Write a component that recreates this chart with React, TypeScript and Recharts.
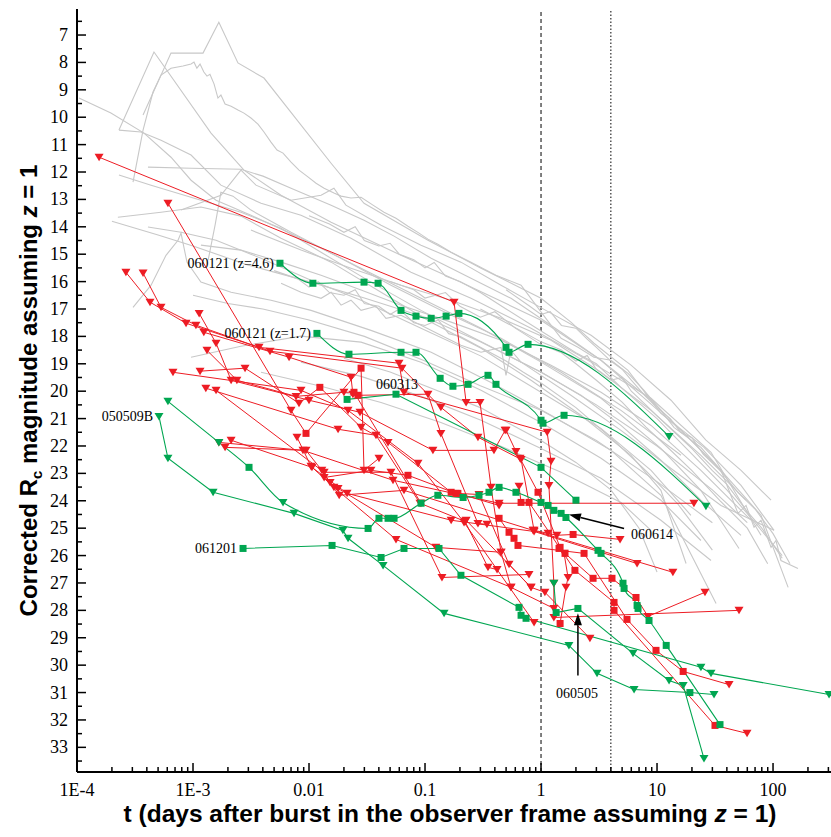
import React from 'react';
import { LineChart, Line, XAxis, YAxis, ReferenceLine, ReferenceDot } from 'recharts';

const RED = '#ed1c24';
const GREEN = '#00a651';
const GRAY = '#c8c8c8';
const SERIF = '"Liberation Serif", "Times New Roman", serif';
const SANS = '"Liberation Sans", Arial, sans-serif';

// axis ticks
const xMajor = [1e-4, 1e-3, 0.01, 0.1, 1, 10, 100];
const xMajorLabels = ['1E-4', '1E-3', '0.01', '0.1', '1', '10', '100'];

// grey afterglows (t in days, R magnitude)
const gray01 = [[3.71e-4, 9.92], [6.46e-4, 7.66], [1.22e-3, 7.66], [1.67e-3, 6.53], [2.44e-3, 8.02], [4.09e-3, 8.57], [0.0155, 11.68], [0.0298, 13.14], [0.106, 14.49], [0.304, 15.51], [1.0, 16.61], [1.81, 17.48], [2.86, 18.25], [5.62, 19.24], [10.8, 20.81], [25.4, 22.05], [53.0, 23.44], [102, 25.08]];
const gray02 = [[2.3e-4, 10.47], [4.61e-4, 7.62], [1.43e-3, 10.58], [2.75e-3, 11.93], [5.74e-3, 12.85], [0.0155, 13.83], [0.0621, 15.04], [0.204, 16.02], [1.0, 17.41], [3.29, 18.87], [8.88, 20.33], [19.6, 21.79], [35.6, 22.89]];
const gray03 = [[3.04e-4, 12.37], [3.71e-4, 10.47], [4.52e-4, 9.08], [5.3e-4, 8.46], [6.46e-4, 8.21], [8.2e-4, 8.13], [9.62e-4, 8.06], [1.02e-3, 7.99], [1.08e-3, 8.21], [1.15e-3, 8.06], [1.24e-3, 8.35], [1.32e-3, 8.5], [1.4e-3, 8.43], [1.52e-3, 8.79], [1.64e-3, 9.3], [1.74e-3, 9.19], [1.89e-3, 9.52], [2.13e-3, 9.6], [2.44e-3, 9.74], [2.75e-3, 9.85], [3.16e-3, 10.03], [3.63e-3, 10.25], [4.09e-3, 10.54], [4.7e-3, 10.91], [5.3e-3, 11.2], [5.97e-3, 11.31], [7.0e-3, 11.64], [8.2e-3, 11.93], [9.6e-3, 12.15], [0.0115, 12.41], [0.0135, 12.59], [0.0164, 12.77], [0.0189, 12.88], [0.023, 12.95], [0.0281, 12.92], [0.0356, 13.21], [0.0443, 13.47], [0.0562, 13.69], [0.0713, 13.98], [0.0888, 14.23], [0.106, 14.45], [0.129, 14.64], [0.168, 14.93], [0.249, 15.29], [0.409, 15.77], [0.673, 16.13], [1.1, 17.34], [1.49, 18.07], [2.08, 18.4], [2.86, 18.76], [4.01, 18.87], [5.62, 19.35], [7.73, 19.97], [10.8, 20.7], [14.0, 21.32], [23.9, 22.05], [35.6, 22.89], [49.9, 24.46], [58.5, 24.17], [68.6, 24.97], [78.8, 24.71], [96.2, 25.7], [106, 25.45], [117, 26.18], [164, 26.47]];
const gray04 = [[4.09e-4, 11.82], [9.62e-4, 11.86], [2.59e-3, 11.9], [4.01e-3, 12.15], [7.0e-3, 12.59], [0.0155, 13.21], [0.0298, 13.76], [0.0541, 14.34], [0.113, 15.15], [0.249, 15.88], [0.551, 16.61], [1.49, 17.85], [3.29, 18.87], [7.28, 20.15], [16.1, 21.43], [35.6, 22.89], [78.8, 24.53], [135, 27.16]];
const gray05 = [[1.04e-4, 9.3], [1.96e-4, 9.85], [3.78e-4, 10.58], [6.46e-4, 11.46], [9.62e-4, 12.3], [1.58e-3, 13.03], [3.16e-3, 13.58], [8.53e-3, 14.42], [0.0281, 15.51], [0.0924, 16.61], [0.304, 17.7], [1.0, 18.94], [3.29, 20.26], [10.8, 22.09], [23.9, 23.62], [50.9, 25.74]];
const gray06 = [[2.3e-4, 12.11], [4.35e-4, 12.48], [1.17e-3, 13.03], [2.59e-3, 13.47], [5.74e-3, 14.05], [0.0127, 14.93], [0.0342, 16.02], [0.0924, 17.05], [0.249, 18.0], [0.673, 18.94], [1.81, 20.15], [4.89, 21.43], [13.2, 22.82], [35.6, 24.17], [102, 25.08]];
const gray07 = [[2.25e-4, 13.65], [5.3e-4, 13.47], [1.17e-3, 13.28], [2.59e-3, 13.61], [5.74e-3, 14.42], [0.0155, 15.29], [0.0418, 16.39], [0.113, 17.48], [0.304, 18.43], [0.82, 19.6], [2.21, 20.88], [5.97, 22.34], [10.8, 23.62], [17.8, 26.29]];
const gray08 = [[2.3e-4, 10.47], [3.56e-4, 10.54], [5.3e-4, 10.84], [9.62e-4, 11.38], [1.74e-3, 12.48], [3.86e-3, 13.14], [8.53e-3, 13.58], [0.023, 14.42], [0.0757, 15.66], [0.249, 16.61], [0.82, 17.7], [2.7, 18.94], [8.88, 20.26], [29.2, 22.23], [78.8, 25.26]];
const gray09 = [[3.04e-4, 16.94], [4.35e-4, 16.13], [5.85e-4, 15.04], [7.43e-4, 14.49], [7.88e-4, 14.23], [8.87e-4, 15.29], [1.17e-3, 16.02], [2.13e-3, 16.39], [4.7e-3, 16.68], [0.0104, 17.05], [0.0342, 17.78], [0.113, 18.58], [0.371, 19.68], [1.22, 20.88], [4.01, 22.16], [10.8, 23.8], [32.3, 27.75]];
const gray10 = [[9.62e-4, 18.76], [2.59e-3, 18.36], [8.53e-3, 17.99], [0.0281, 18.21], [0.0924, 18.94], [0.304, 19.97], [1.0, 21.14], [3.29, 22.45], [10.8, 23.98], [23.9, 25.45]];
const gray11 = [[3.86e-3, 19.31], [0.0127, 19.82], [0.0418, 20.41], [0.137, 21.14], [0.452, 22.01], [1.49, 22.96], [4.89, 24.06], [8.88, 25.08]];
const gray12 = [[5.74e-3, 16.06], [8.53e-3, 16.39], [0.0127, 16.61], [0.0155, 16.39], [0.0189, 16.86], [0.023, 16.68], [0.0281, 17.05], [0.0378, 16.9], [0.0461, 17.34], [0.0621, 17.23], [0.0924, 17.59], [0.137, 17.96], [0.204, 18.32], [0.304, 18.58], [0.452, 18.4], [0.499, 19.42], [0.551, 18.51], [0.673, 18.94], [1.0, 19.31], [2.21, 20.15], [4.89, 21.25], [10.8, 22.52], [23.9, 23.98], [53.0, 25.26]];
const gray13 = [[1.17e-3, 14.67], [2.59e-3, 14.85], [5.74e-3, 15.29], [0.0127, 15.77], [0.0281, 16.31], [0.0621, 16.86], [0.168, 17.48], [0.452, 18.14], [1.22, 19.05], [3.29, 20.04], [8.88, 21.25], [23.9, 22.89], [64.6, 24.71]];
const gray14 = [[1.35e-3, 15.22], [1.55e-3, 13.94], [1.74e-3, 12.74], [2.21e-3, 12.88], [3.16e-3, 13.39], [7.0e-3, 14.2], [0.0189, 15.15], [0.0509, 16.13], [0.137, 17.05], [0.452, 18.07], [1.49, 19.31], [4.89, 20.7], [16.1, 22.34]];
const gray15 = [[7.88e-4, 13.39], [1.74e-3, 12.85], [2.59e-3, 11.93], [3.49e-3, 12.48], [7.0e-3, 13.03], [0.0127, 12.85], [0.0164, 12.59], [0.0208, 13.21], [0.0418, 13.94], [0.0924, 14.67], [0.204, 15.29], [0.452, 16.13], [1.1, 17.05], [2.7, 17.96], [5.97, 19.05], [13.2, 20.33], [26.4, 21.79], [53.0, 22.89], [96.2, 23.98]];
const gray16 = [[4.09e-4, 14.01], [7.88e-4, 14.2], [1.58e-3, 14.49], [3.86e-3, 15.15], [0.0104, 15.95], [0.0281, 16.68], [0.0924, 17.7], [0.304, 18.72], [1.0, 20.04], [3.29, 21.36], [8.88, 22.89], [19.6, 24.53]];
const gray17 = [[8.53e-3, 18.94], [0.0281, 19.46], [0.0924, 20.19], [0.304, 21.06], [1.0, 22.09], [3.29, 23.18], [10.8, 24.71], [29.2, 26.18]];
const gray18 = [[3.16e-3, 14.12], [8.53e-3, 14.85], [0.023, 15.51], [0.0621, 16.13], [0.168, 16.68], [0.452, 17.34], [1.22, 18.14], [3.29, 19.31], [8.88, 20.7], [23.9, 22.34], [58.5, 23.98]];
const gray19 = [[0.005, 15.6], [0.008, 15.9], [0.01, 16.2], [0.012, 16.0], [0.015, 16.4], [0.02, 16.5], [0.025, 16.3], [0.03, 16.8], [0.04, 16.9], [0.05, 17.2], [0.06, 17.0], [0.08, 17.5], [0.1, 17.6], [0.13, 17.4], [0.16, 17.9], [0.2, 18.0], [0.3, 18.4], [0.5, 18.9], [0.7, 19.3], [1, 19.7], [2, 20.6], [4, 21.7], [8, 22.9], [15, 24.1], [30, 25.8]];
const gray20 = [[0.3, 17.0], [0.5, 17.5], [1, 18.2], [1.5, 18.5], [2, 18.9], [2.5, 18.7], [3, 19.2], [4, 19.6], [5, 19.5], [6, 20.0], [8, 20.5], [10, 20.9], [15, 21.6], [20, 22.1], [30, 22.9], [40, 23.4], [60, 24.4], [80, 25.0], [100, 25.6], [120, 26.1]];
const gray21 = [[1e-3, 16.5], [2e-3, 16.8], [4e-3, 17.0], [0.01, 17.4], [0.03, 18.0], [0.1, 18.9], [0.3, 19.8], [1, 20.7], [3, 21.8], [10, 23.3], [30, 24.8]];
const gray22 = [[0.01, 13.6], [0.015, 13.9], [0.02, 14.2], [0.025, 14.0], [0.03, 14.5], [0.04, 14.7], [0.05, 14.6], [0.06, 15.0], [0.08, 15.2], [0.1, 15.5], [0.12, 15.3], [0.15, 15.8], [0.2, 16.0], [0.3, 16.4], [0.5, 17.0], [1, 17.8], [2, 18.6], [3, 19.0], [5, 19.9], [10, 21.0], [20, 22.3], [40, 23.6], [70, 24.8], [120, 26.0]];
const gray23 = [[2e-4, 13.8], [5e-4, 14.3], [1e-3, 14.7], [3e-3, 15.4], [0.01, 16.0], [0.03, 16.6], [0.1, 17.3], [0.3, 18.2], [1, 19.3], [3, 20.5], [10, 22.0], [30, 23.6], [60, 24.8]];
const gray24 = [[0.02, 18.8], [0.05, 19.3], [0.1, 19.8], [0.3, 20.6], [0.6, 21.3], [1, 21.8], [2, 22.6], [4, 23.6], [7, 25.0], [10, 26.6]];
const gray25 = [[0.05, 16.0], [0.08, 16.3], [0.1, 16.6], [0.15, 16.4], [0.2, 16.9], [0.3, 17.3], [0.4, 17.1], [0.6, 17.7], [1, 18.3], [1.5, 18.6], [2, 19.0], [3, 19.6], [5, 20.4], [8, 21.3], [12, 22.0], [20, 22.9], [35, 24.0], [60, 25.0], [90, 26.3]];
const gray26 = [[0.5, 16.3], [0.8, 16.9], [1, 17.2], [1.2, 17.1], [1.5, 17.6], [2, 17.7], [2.5, 18.1], [3, 18.4], [4, 18.9], [5, 19.2], [6, 19.6], [8, 20.2], [10, 20.6], [13, 21.0], [16, 21.5], [20, 21.7], [25, 22.3], [35, 22.9], [50, 23.7], [70, 24.3], [100, 25.2], [140, 26.3]];

// red short bursts: [t, mag, 'v' upper limit | 's' detection]
const red01 = [[1.55e-4, 11.46, 'v'], [0.178, 16.75, 'v'], [0.226, 20.41, 'v'], [0.298, 20.41, 'v'], [0.371, 23.51, 'v'], [0.452, 25.88, 'v']];
const red02 = [[6.08e-4, 13.14, 'v'], [7.0e-3, 20.7, 'v'], [9.42e-3, 21.54, 's'], [0.0281, 19.16, 's'], [0.0298, 22.89, 'v'], [0.0401, 22.45, 'v']];
const red03 = [[2.64e-4, 15.66, 'v'], [4.26e-4, 16.75, 'v'], [8.71e-4, 17.52, 'v'], [3.71e-3, 18.4, 'v'], [0.0597, 18.98, 'v'], [0.0659, 20.04, 'v'], [1.13, 21.5, 'v'], [1.22, 22.56, 'v'], [1.17, 23.44, 'v'], [1.29, 27.01, 'v'], [1.29, 28.26, 'v'], [50.9, 28.0, 'v']];
const red04 = [[3.71e-4, 15.69, 'v'], [5.3e-4, 16.94, 'v'], [1.06e-3, 17.59, 'v'], [4.61e-3, 18.54, 'v'], [0.0633, 19.16, 'v'], [0.137, 20.59, 'v'], [0.286, 21.68, 'v'], [0.673, 22.49, 'v'], [0.871, 25.08, 'v'], [1.15, 25.19, 'v'], [1.37, 25.26, 'v'], [1.89, 25.23, 's'], [4.8, 25.41, 'v']];
const red05 = [[1.13e-3, 17.16, 'v'], [1.58e-3, 18.25, 'v'], [2.13e-3, 19.6, 'v'], [0.01, 20.33, 'v'], [0.0275, 20.77, 'v'], [0.117, 22.16, 'v'], [0.393, 22.16, 'v'], [0.49, 21.43, 'v']];
const red06 = [[1.24e-3, 17.85, 'v'], [6.73e-3, 18.76, 'v'], [0.023, 19.49, 'v'], [0.0239, 20.11, 'v'], [0.0264, 20.15, 's'], [0.106, 20.11, 'v'], [0.137, 21.54, 'v'], [0.286, 24.83, 'v'], [0.342, 24.86, 'v']];
const red07 = [[6.72e-4, 19.31, 'v'], [8.53e-3, 19.97, 'v'], [0.0217, 20.7, 'v'], [0.087, 22.63, 'v'], [0.217, 24.79, 'v'], [0.871, 28.44, 'v']];
const red08 = [[1.15e-3, 19.27, 'v'], [2.81e-3, 19.16, 'v'], [8.2e-3, 20.44, 'v'], [0.0124, 19.86, 's'], [0.0281, 21.32, 'v'], [0.048, 21.87, 'v'], [0.168, 23.69, 's'], [0.192, 23.73, 's'], [0.435, 24.17, 'v']];
const red09 = [[1.29e-3, 19.89, 'v'], [0.0178, 21.39, 'v'], [0.0378, 21.61, 'v'], [0.0905, 24.09, 'v'], [0.221, 24.75, 'v'], [0.349, 26.43, 'v'], [0.418, 26.51, 'v']];
const red10 = [[1.58e-3, 19.97, 'v'], [0.0135, 22.96, 'v'], [0.0509, 22.96, 'v'], [0.14, 26.8, 'v'], [0.788, 26.69, 'v']];
const red11 = [[1.67e-3, 21.87, 'v'], [8.87e-3, 22.16, 'v'], [0.053, 23.25, 'v'], [0.435, 24.09, 'v'], [20.8, 24.09, 'v']];
const red12 = [[2.13e-3, 21.79, 'v'], [0.0106, 22.78, 'v'], [0.0213, 23.73, 'v'], [0.168, 24.71, 'v'], [0.871, 25.12, 'v'], [6.73, 26.29, 'v']];
const red13 = [[1.89e-3, 22.05, 'v'], [9.42e-3, 22.16, 'v'], [0.0129, 22.89, 'v'], [0.0152, 23.33, 'v'], [0.0182, 23.8, 'v'], [0.0659, 23.62, 'v'], [0.853, 25.08, 'v'], [13.7, 26.61, 'v']];
const red14 = [[7.88e-3, 21.68, 'v'], [0.0104, 22.74, 'v'], [0.0164, 23.51, 'v'], [0.0562, 25.41, 'v'], [0.551, 27.16, 'v']];
const red15 = [[0.499, 21.43, 'v'], [0.608, 22.2, 'v'], [0.659, 22.45, 'v'], [0.942, 23.69, 's'], [1.46, 25.7, 's'], [1.61, 25.92, 's'], [2.81, 26.83, 's'], [4.09, 26.83, 's'], [6.59, 27.53, 's'], [8.36, 28.22, 'v'], [25.9, 27.34, 'v']];
const red16 = [[0.646, 23.47, 'v'], [0.673, 24.06, 's'], [0.788, 24.06, 's'], [1.96, 26.54, 's'], [4.26, 27.71, 's'], [4.26, 28.0, 's'], [31.6, 32.2, 's'], [59.7, 32.49, 'v']];
const red17 = [[0.435, 24.64, 's'], [0.53, 25.15, 's'], [0.585, 25.37, 's'], [0.633, 25.63, 's'], [2.35, 25.92, 's'], [5.51, 28.33, 's'], [9.8, 29.46, 's'], [16.8, 30.23, 's'], [41.8, 30.71, 'v']];
const red18 = [[0.226, 24.71, 'v'], [0.82, 27.16, 'v'], [1.08, 27.34, 'v'], [2.64, 29.02, 'v']];
const red19 = [[1.43, 25.74, 's'], [1.58, 25.92, 'v'], [1.71, 26.8, 'v'], [1.64, 27.16, 'v'], [1.46, 28.48, 's']];
const red20 = [[1.32e-3, 18.51, 'v'], [2.39e-3, 19.6, 'v'], [7.73e-3, 20.19, 'v'], [0.02, 20.04, 'v'], [0.0244, 20.04, 's'], [0.0924, 24.09, 'v']];
const red21 = [[0.0135, 23.15, 'v'], [0.0342, 22.89, 'v'], [0.0713, 23.07, 's'], [0.185, 23.73, 's'], [0.292, 23.77, 'v'], [0.53, 26.32, 'v'], [0.82, 27.16, 'v']];
const red22 = [[0.0178, 23.55, 'v'], [0.124, 25.7, 'v'], [0.452, 25.88, 'v'], [0.551, 27.16, 'v'], [1.29, 27.93, 'v']];

// green short bursts
const green01 = [[5.62e-3, 15.33, 's'], [0.0108, 16.06, 's'], [0.0298, 16.02, 's'], [0.0394, 16.06, 's'], [0.0621, 17.05, 's'], [0.0836, 17.26, 's'], [0.113, 17.34, 's'], [0.152, 17.26, 's'], [0.196, 17.16, 's'], [0.499, 18.4, 's'], [0.53, 18.58, 's'], [0.773, 18.29, 's'], [12.7, 21.65, 'v']];
const green02 = [[0.0117, 17.89, 's'], [0.0221, 18.65, 's'], [0.0621, 18.58, 's'], [0.0836, 18.58, 's'], [0.135, 19.53, 's'], [0.174, 19.82, 's'], [0.235, 19.75, 's'], [0.349, 19.42, 's'], [0.409, 19.75, 's'], [1.0, 21.06, 's'], [1.04, 21.17, 's'], [1.58, 20.88, 's'], [26.4, 24.2, 'v']];
const green03 = [[0.0213, 20.3, 's'], [0.0562, 20.11, 's'], [1.0, 22.78, 's'], [2.0, 23.98, 's']];
const green04 = [[5.09e-4, 20.92, 'v'], [6.08e-4, 22.45, 'v'], [1.49e-3, 23.69, 'v'], [7.43e-3, 24.46, 'v'], [0.0196, 25.08, 'v'], [0.0217, 25.37, 'v'], [0.0435, 26.36, 'v'], [0.146, 28.11, 'v'], [1.74, 29.28, 'v'], [3.04, 30.3, 'v'], [6.34, 30.89, 'v'], [19.2, 31.0, 's'], [31.0, 31.07, 'v']];
const green05 = [[6.08e-4, 20.37, 'v'], [1.67e-3, 21.87, 'v'], [3.04e-3, 22.78, 's'], [5.97e-3, 24.06, 'v'], [0.0323, 25.01, 's'], [0.0401, 24.64, 's'], [0.048, 24.64, 's'], [0.0541, 24.64, 's'], [0.0924, 24.09, 's'], [0.129, 23.8, 's'], [0.213, 23.88, 's'], [0.292, 23.8, 's'], [0.356, 23.69, 's'], [0.435, 23.51, 's'], [0.608, 23.69, 's'], [1.0, 24.06, 's'], [1.15, 24.17, 's'], [1.29, 24.35, 's'], [1.49, 24.46, 's'], [1.64, 24.61, 's'], [3.1, 25.81, 's'], [3.29, 25.92, 's'], [5.09, 27.01, 's'], [5.2, 27.2, 's'], [6.73, 27.82, 's'], [6.86, 27.93, 's'], [8.53, 28.37, 's'], [12.0, 29.28, 's'], [34.9, 32.17, 's']];
const green06 = [[2.7e-3, 25.74, 's'], [0.0158, 25.63, 's'], [0.0418, 26.07, 's'], [0.0659, 25.74, 's'], [0.132, 25.74, 's'], [0.204, 26.72, 's'], [0.646, 27.89, 's'], [0.673, 28.18, 's'], [0.743, 28.29, 's'], [23.9, 30.08, 'v'], [29.2, 30.3, 'v'], [304, 31.07, 'v']];
const green07 = [[1.29, 27.01, 'v'], [1.35, 28.08, 's'], [2.08, 27.93, 's'], [6.21, 29.57, 'v'], [12.7, 30.56, 'v'], [16.8, 30.74, 'v'], [25.4, 33.41, 'v']];

const graySeries = [gray01, gray02, gray03, gray04, gray05, gray06, gray07, gray08, gray09, gray10, gray11, gray12, gray13, gray14, gray15, gray16, gray17, gray18, gray19, gray20, gray21, gray22, gray23, gray24, gray25, gray26];
const redSeries = [red01, red02, red03, red04, red05, red06, red07, red08, red09, red10, red11, red12, red13, red14, red15, red16, red17, red18, red19, red20, red21, red22];
const greenSeries = [green01, green02, green03, green04, green05, green06, green07];
// which green curves are drawn smoothed
const greenSmooth = [true, true, false, false, true, false, false];

// burst names and where they sit
const burstNames = ['060121 (z=4.6)', '060121 (z=1.7)', '060313', '050509B', '061201', '060614', '060505'];
const burstT = [5.62e-3, 0.0117, 0.0574, 5.09e-4, 2.7e-3, 5.97, 2.04];
const burstM = [15.33, 17.89, 19.75, 20.92, 25.74, 25.23, 31.0];
const burstAnchor = ['end', 'end', 'middle', 'end', 'end', 'start', 'middle'];

const arrows = [
  { from: { x: 5.2, y: 25.01 }, to: { x: 1.74, y: 24.5 } },
  { from: { x: 2.08, y: 30.38 }, to: { x: 2.08, y: 28.11 } },
];

const toRows = (s: any[]) => s.map((p) => ({ t: p[0], m: p[1], k: p[2] }));

const xTicks: number[] = [];
xMajor.forEach((d) => {
  for (let k = 1; k <= 9; k++) if (d * k <= 316) xTicks.push(d * k);
});
const yTicks: number[] = [];
for (let v = 6.5; v <= 33.5; v += 0.5) yTicks.push(v);

const majorIndex = (v: number) => xMajor.findIndex((m) => Math.abs(m - v) / m < 1e-6);

const renderXTick = (p: any) => {
  const { x, y, payload } = p;
  const i = majorIndex(payload.value);
  return (
    <g>
      <line x1={x} x2={x} y1={y} y2={y - (i >= 0 ? 9 : 5)} stroke="#000" strokeWidth={1.5} />
      {i >= 0 && (
        <text x={x} y={y + 24} textAnchor="middle" fontFamily={SERIF} fontSize={18} fill="#000">
          {xMajorLabels[i]}
        </text>
      )}
    </g>
  );
};

const renderTopTick = (p: any) => {
  const { x, y, payload } = p;
  const i = majorIndex(payload.value);
  return <line x1={x} x2={x} y1={y} y2={y + (i >= 0 ? 9 : 5)} stroke="#000" strokeWidth={1.5} />;
};

const renderYTick = (p: any) => {
  const { x, y, payload } = p;
  const major = Number.isInteger(payload.value);
  return (
    <g>
      <line x1={x} x2={x + (major ? 9 : 5)} y1={y} y2={y} stroke="#000" strokeWidth={1.5} />
      {major && (
        <text x={x - 9} y={y + 6} textAnchor="end" fontFamily={SERIF} fontSize={18} fill="#000">
          {payload.value}
        </text>
      )}
    </g>
  );
};

const makeDot = (color: string) => (p: any) => {
  const { cx, cy, payload, index } = p;
  if (cx == null || cy == null) return <g key={index} />;
  if (payload.k === 'v')
    return <path key={index} d={`M${cx - 4.5},${cy - 3.5}L${cx + 4.5},${cy - 3.5}L${cx},${cy + 4}Z`} fill={color} />;
  return <rect key={index} x={cx - 3.5} y={cy - 3.5} width={7} height={7} fill={color} />;
};

const arrowShape = (p: any) => {
  const { x1, y1, x2, y2 } = p;
  const a = Math.atan2(y2 - y1, x2 - x1);
  const c = Math.cos(a);
  const s = Math.sin(a);
  const bx = x2 - 12 * c;
  const by = y2 - 12 * s;
  return (
    <g>
      <line x1={x1} y1={y1} x2={bx} y2={by} stroke="#000" strokeWidth={1.5} />
      <path d={`M${x2},${y2}L${bx - 4 * s},${by + 4 * c}L${bx + 4 * s},${by - 4 * c}Z`} fill="#000" />
    </g>
  );
};

const xTitle = (p: any) => {
  const vb = p.viewBox;
  return (
    <text x={vb.x + vb.width / 2 - 4} y={vb.y + 50} textAnchor="middle" fontFamily={SANS} fontWeight="bold" fontSize={24.5} fill="#000">
      t (days after burst in the observer frame assuming <tspan fontStyle="italic">z</tspan> = 1)
    </text>
  );
};

const yTitle = (p: any) => {
  const vb = p.viewBox;
  const x = vb.x + 37;
  const y = vb.y + vb.height / 2;
  return (
    <text x={x} y={y} transform={`rotate(-90, ${x}, ${y})`} textAnchor="middle" fontFamily={SANS} fontWeight="bold" fontSize={24} fill="#000">
      Corrected R<tspan fontSize={15} dy={5}>c</tspan>
      <tspan dy={-5}> magnitude assuming </tspan>
      <tspan fontStyle="italic">z</tspan> = 1
    </text>
  );
};

export default function App() {
  return (
    <div style={{ position: 'absolute', left: 0, top: 0, background: '#fff' }}>
      <LineChart width={831} height={837} margin={{ top: 9, right: 0, bottom: 0, left: 0 }}>
        <XAxis
          type="number"
          dataKey="t"
          scale="log"
          domain={[1e-4, 316]}
          allowDataOverflow
          ticks={xTicks}
          interval={0}
          tick={renderXTick}
          tickLine={false}
          tickSize={0}
          tickMargin={0}
          height={65}
          axisLine={{ stroke: '#000', strokeWidth: 2 }}
          label={{ content: xTitle }}
        />
        <XAxis
          xAxisId="top"
          orientation="top"
          type="number"
          dataKey="t"
          scale="log"
          domain={[1e-4, 316]}
          allowDataOverflow
          ticks={xTicks}
          interval={0}
          tick={renderTopTick}
          tickLine={false}
          tickSize={0}
          tickMargin={0}
          height={0}
          axisLine={{ stroke: '#000', strokeWidth: 2 }}
        />
        <YAxis
          type="number"
          domain={[6.05, 33.9]}
          reversed
          allowDataOverflow
          ticks={yTicks}
          interval={0}
          tick={renderYTick}
          tickLine={false}
          tickSize={0}
          tickMargin={0}
          width={77}
          axisLine={{ stroke: '#000', strokeWidth: 2 }}
          label={{ content: yTitle }}
        />
        <ReferenceLine x={1} stroke="#000" strokeWidth={1} strokeDasharray="4 3" />
        <ReferenceLine x={4} stroke="#000" strokeWidth={1} strokeDasharray="1.5 2" />
        {graySeries.map((s, i) => (
          <Line key={`g${i}`} data={toRows(s)} dataKey="m" type="linear" stroke={GRAY} strokeWidth={1.1} dot={false} activeDot={false} isAnimationActive={false} />
        ))}
        {redSeries.map((s, i) => (
          <Line key={`r${i}`} data={toRows(s)} dataKey="m" type="linear" stroke={RED} strokeWidth={1} dot={makeDot(RED)} activeDot={false} isAnimationActive={false} />
        ))}
        {greenSeries.map((s, i) => (
          <Line
            key={`n${i}`}
            data={toRows(s)}
            dataKey="m"
            type={greenSmooth[i] ? 'monotoneX' : 'linear'}
            stroke={GREEN}
            strokeWidth={1.1}
            dot={makeDot(GREEN)}
            activeDot={false}
            isAnimationActive={false}
          />
        ))}
        {arrows.map((a, i) => (
          <ReferenceLine key={`a${i}`} segment={[a.from, a.to]} shape={arrowShape} />
        ))}
        {burstNames.map((name, i) => (
          <ReferenceDot
            key={name}
            x={burstT[i]}
            y={burstM[i]}
            r={0}
            shape={(p: any) => (
              <text
                x={p.cx + (burstAnchor[i] === 'end' ? -6 : 0)}
                y={p.cy + 5}
                textAnchor={burstAnchor[i]}
                fontFamily={SERIF}
                fontSize={14}
                fill="#000"
              >
                {name}
              </text>
            )}
          />
        ))}
      </LineChart>
    </div>
  );
}
